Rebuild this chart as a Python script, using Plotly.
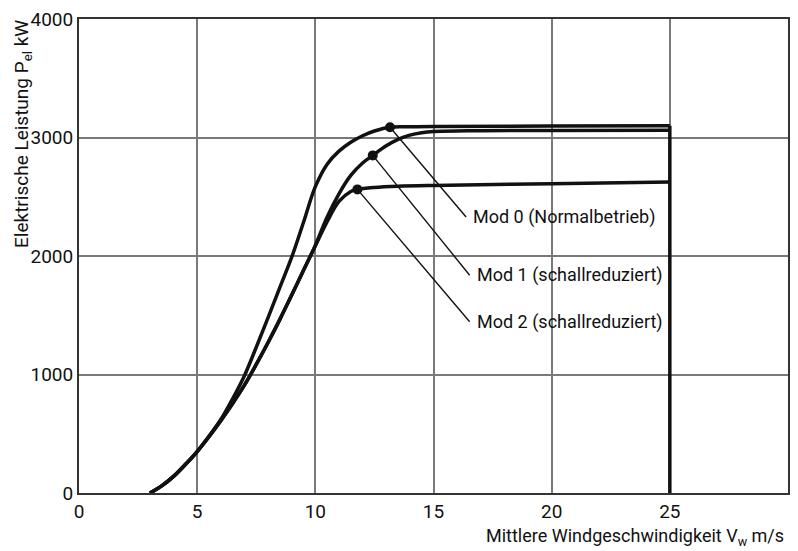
import plotly.graph_objects as go

# Wind speed (m/s) and electrical power (kW) for the three operating modes
v_mod0 = [3.0, 3.5, 4.0, 4.5, 5.0, 5.5, 6.0, 6.5, 7.0, 7.5, 8.0, 8.5, 9.0, 9.5, 10.0,
          10.5, 11.0, 11.5, 12.0, 12.5, 13.16, 14.0, 15.0, 20.0, 25.0]
p_mod0 = [0, 60, 140, 240, 350, 480, 620, 795, 990, 1230, 1480, 1735, 1990, 2285, 2585,
          2775, 2885, 2960, 3015, 3055, 3087, 3090, 3092, 3096, 3100]

v_mod1 = [3.0, 3.5, 4.0, 4.5, 5.0, 5.5, 6.0, 6.5, 7.0, 7.5, 8.0, 8.5, 9.0, 9.5, 10.0,
          10.5, 11.0, 11.5, 12.0, 12.43, 13.0, 13.5, 14.0, 14.5, 15.0, 17.0, 20.0, 25.0]
p_mod1 = [0, 60, 140, 240, 350, 475, 610, 755, 910, 1085, 1270, 1465, 1670, 1880, 2090,
          2330, 2525, 2680, 2785, 2849, 2930, 2985, 3020, 3040, 3050, 3057, 3060, 3062]

v_mod2 = [3.0, 3.5, 4.0, 4.5, 5.0, 5.5, 6.0, 6.5, 7.0, 7.5, 8.0, 8.5, 9.0, 9.5, 10.0,
          10.5, 11.0, 11.5, 11.78, 12.5, 13.5, 15.0, 20.0, 25.0]
p_mod2 = [0, 60, 140, 240, 350, 475, 610, 755, 910, 1085, 1270, 1465, 1670, 1880, 2085,
          2290, 2460, 2545, 2562, 2578, 2588, 2595, 2610, 2625]

# Rated-power points marked with a dot
knee_v = [13.16, 12.43, 11.78]
knee_p = [3087, 2849, 2562]

labels = ["Mod 0 (Normalbetrieb)", "Mod 1 (schallreduziert)", "Mod 2 (schallreduziert)"]
label_v = [16.38, 16.53, 16.53]
label_p = [2329, 1838, 1445]

cut_out_v = 25.0

x_ticks = [0, 5, 10, 15, 20, 25, 30]
y_ticks = [0, 1000, 2000, 3000, 4000]

FONT = "Roboto, Liberation Sans, sans-serif"
INK = "#111111"

fig = go.Figure()

for v, p in [(v_mod0, p_mod0), (v_mod1, p_mod1), (v_mod2, p_mod2)]:
    fig.add_trace(go.Scatter(
        x=v, y=p, mode="lines",
        line=dict(color=INK, width=3.5, shape="spline", smoothing=1.0),
        hoverinfo="skip", showlegend=False,
    ))

# Cut-out at 25 m/s: drop from the highest curve down to zero
fig.add_trace(go.Scatter(
    x=[cut_out_v, cut_out_v], y=[max(p_mod0[-1], p_mod1[-1], p_mod2[-1]), 0],
    mode="lines", line=dict(color=INK, width=3.5),
    hoverinfo="skip", showlegend=False,
))

fig.add_trace(go.Scatter(
    x=knee_v, y=knee_p, mode="markers",
    marker=dict(color=INK, size=10),
    hoverinfo="skip", showlegend=False,
))

# Leader lines and labels
for kv, kp, lv, lp, txt in zip(knee_v, knee_p, label_v, label_p, labels):
    fig.add_shape(type="line", x0=kv, y0=kp, x1=lv, y1=lp, xref="x", yref="y",
                  line=dict(color=INK, width=1.4))
    fig.add_annotation(x=lv, y=lp, xref="x", yref="y", text=txt, showarrow=False,
                       xanchor="left", yanchor="middle", xshift=5,
                       font=dict(family=FONT, size=18, color=INK))

fig.add_annotation(
    x=0.997, y=-0.093, xref="paper", yref="paper",
    text="Mittlere Windgeschwindigkeit V<sub>w</sub> m/s", showarrow=False,
    xanchor="right", yanchor="middle", font=dict(family=FONT, size=18, color=INK),
)
fig.add_annotation(
    x=-0.080, y=0.758, xref="paper", yref="paper", textangle=-90,
    text="Elektrische Leistung P<sub>el</sub> kW", showarrow=False,
    xanchor="center", yanchor="middle", font=dict(family=FONT, size=19, color=INK),
)

axis_common = dict(
    showgrid=True, gridcolor="#7a7a7a", gridwidth=1.8,
    zeroline=False, showline=True, linecolor="#333333", linewidth=2, mirror=True,
    ticks="", tickfont=dict(family=FONT, size=19, color=INK),
)

fig.update_xaxes(range=[0, 30], tickvals=x_ticks, ticktext=[str(t) for t in x_ticks], **axis_common)
fig.update_yaxes(range=[0, 4000], tickvals=y_ticks, ticktext=[str(t) for t in y_ticks], **axis_common)

fig.update_layout(
    width=798, height=551,
    margin=dict(l=79, r=8, t=18, b=58),
    paper_bgcolor="white", plot_bgcolor="white",
    showlegend=False,
)

fig.write_html("out.html")
